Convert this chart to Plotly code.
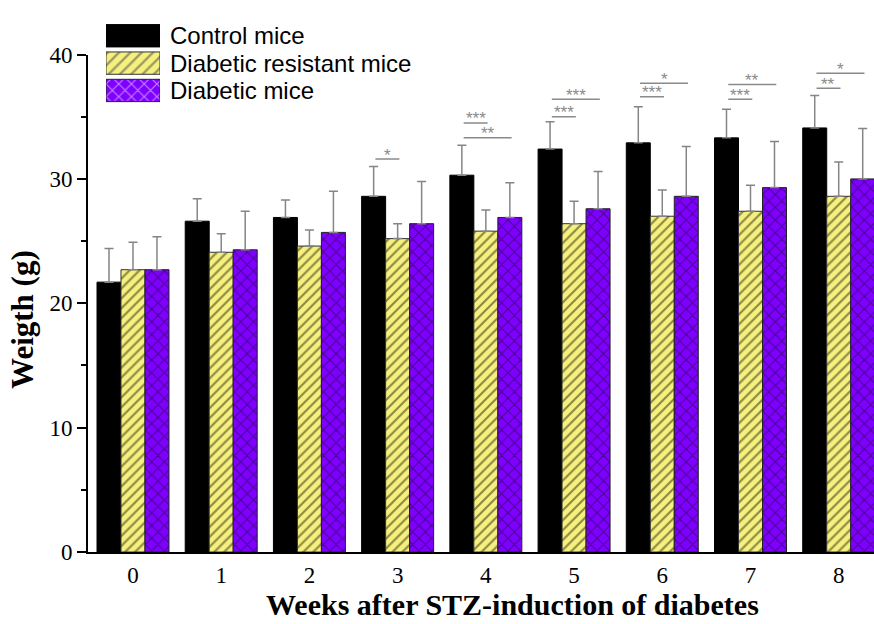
import plotly.graph_objects as go

# ---------------- data ----------------
weeks = [0, 1, 2, 3, 4, 5, 6, 7, 8]
week_labels = ["0", "1", "2", "3", "4", "5", "6", "7", "8"]

series_names = ["Control mice", "Diabetic resistant mice", "Diabetic mice"]

control = [21.7, 26.6, 26.9, 28.6, 30.3, 32.4, 32.9, 33.3, 34.1]
control_err = [2.7, 1.8, 1.4, 2.4, 2.4, 2.2, 2.9, 2.3, 2.6]

resistant = [22.7, 24.1, 24.6, 25.2, 25.8, 26.4, 27.0, 27.4, 28.6]
resistant_err = [2.2, 1.5, 1.3, 1.2, 1.7, 1.8, 2.1, 2.1, 2.75]

diabetic = [22.7, 24.3, 25.7, 26.4, 26.9, 27.6, 28.6, 29.3, 30.0]
diabetic_err = [2.65, 3.1, 3.3, 3.4, 2.8, 3.0, 4.0, 3.7, 4.05]

# significance brackets: week, group compared with control (1 = resistant, 2 = diabetic), height, label
sig_week = [3, 4, 4, 5, 5, 6, 6, 7, 7, 8, 8]
sig_group = [1, 1, 2, 1, 2, 1, 2, 1, 2, 1, 2]
sig_y = [31.6, 34.5, 33.3, 35.0, 36.4, 36.6, 37.7, 36.4, 37.6, 37.3, 38.5]
sig_label = ["*", "***", "**", "***", "***", "***", "*", "***", "**", "**", "*"]

y_ticks = [0, 10, 20, 30, 40]

# ---------------- styles ----------------
fills = ["#000000", "#F6F07E", "#7F00FF"]
patterns = ["", "/", "x"]
pat_fg = ["#000000", "#1e1e08", "#180830"]
pat_size = [8, 7, 9]
pat_solid = [0.3, 0.3, 0.25]
outline = ["#000000", "#333333", "#222222"]
err_color = "#858585"
sig_color = "#8a8a8a"

BAR_W = 0.272  # width of one bar in category units (used for bracket ends)

fig = go.Figure()

values = [control, resistant, diabetic]
errors = [control_err, resistant_err, diabetic_err]
for k in range(3):
    fig.add_trace(go.Bar(
        x=weeks, y=values[k], name=series_names[k],
        marker=dict(
            color=fills[k],
            line=dict(color=outline[k], width=1),
            pattern=dict(shape=patterns[k], fgcolor=pat_fg[k], size=pat_size[k],
                         solidity=pat_solid[k]),
        ),
        error_y=dict(type="data", array=errors[k], arrayminus=[0] * len(weeks),
                     symmetric=False, color=err_color, thickness=1.5, width=4.5),
        showlegend=False,
    ))

# significance brackets
for w, g, yv, lab in zip(sig_week, sig_group, sig_y, sig_label):
    x0 = w - BAR_W
    x1 = w + (g - 1) * BAR_W
    fig.add_shape(type="line", xref="x", yref="y", x0=x0 + 0.02, x1=x1 + 0.02, y0=yv, y1=yv,
                  line=dict(color=sig_color, width=1.5))
    fig.add_annotation(x=(x0 + x1) / 2 + 0.02, y=yv, xref="x", yref="y", text=lab,
                       showarrow=False, yanchor="middle", yshift=4,
                       font=dict(family="Liberation Sans", size=17, color=sig_color))

# custom legend built from an inset bar trace
fig.add_trace(go.Bar(
    y=series_names, x=[1, 1, 1], orientation="h",
    xaxis="x2", yaxis="y2", showlegend=False, hoverinfo="skip",
    marker=dict(
        color=fills,
        line=dict(color=outline, width=1),
        pattern=dict(shape=patterns, fgcolor=pat_fg, size=[8, 8, 9], solidity=pat_solid),
    ),
))
for name in series_names:
    fig.add_annotation(x=0.1018, y=name, xref="paper", yref="y2", text=name,
                       showarrow=False, xanchor="left", yanchor="middle",
                       font=dict(family="Liberation Sans", size=24, color="#000000"))

# axis titles
fig.add_annotation(x=0.5407, y=-0.0978, xref="paper", yref="paper",
                   text="<b>Weeks after STZ-induction of diabetes</b>", showarrow=False,
                   xanchor="center", yanchor="middle",
                   font=dict(family="Liberation Serif", size=30, color="#000000"))
fig.add_annotation(x=-0.0827, y=0.4317, xref="paper", yref="paper",
                   text="<b>Weigth (g)</b>", showarrow=False, textangle=-90,
                   xanchor="center", yanchor="middle",
                   font=dict(family="Liberation Serif", size=31, color="#000000"))

fig.update_layout(
    width=874, height=624,
    margin=dict(l=88, r=0, t=10, b=72),
    paper_bgcolor="white", plot_bgcolor="white",
    barmode="group", bargap=0.184, bargroupgap=0,
    xaxis=dict(
        domain=[0, 1],
        range=[-0.51, 8.40], tickvals=weeks, ticktext=week_labels,
        showline=True, linecolor="black", linewidth=2, mirror=False,
        ticks="", showgrid=False, zeroline=False, ticklabelstandoff=1,
        tickfont=dict(family="Liberation Serif", size=23, color="black"),
    ),
    yaxis=dict(
        domain=[0, 0.9212],
        range=[0, 40], tickvals=y_ticks,
        showline=True, linecolor="black", linewidth=2,
        ticks="outside", ticklen=9, tickwidth=2, tickcolor="black",
        minor=dict(dtick=5, ticks="outside", ticklen=5, tickwidth=2, tickcolor="black"),
        showgrid=False, zeroline=False,
        tickfont=dict(family="Liberation Serif", size=23, color="black"),
    ),
    xaxis2=dict(domain=[0.0229, 0.0916], anchor="y2", range=[0, 1], visible=False),
    yaxis2=dict(domain=[0.826, 0.9847], anchor="x2", autorange="reversed",
                visible=False, type="category"),
)

fig.write_html("out.html")
